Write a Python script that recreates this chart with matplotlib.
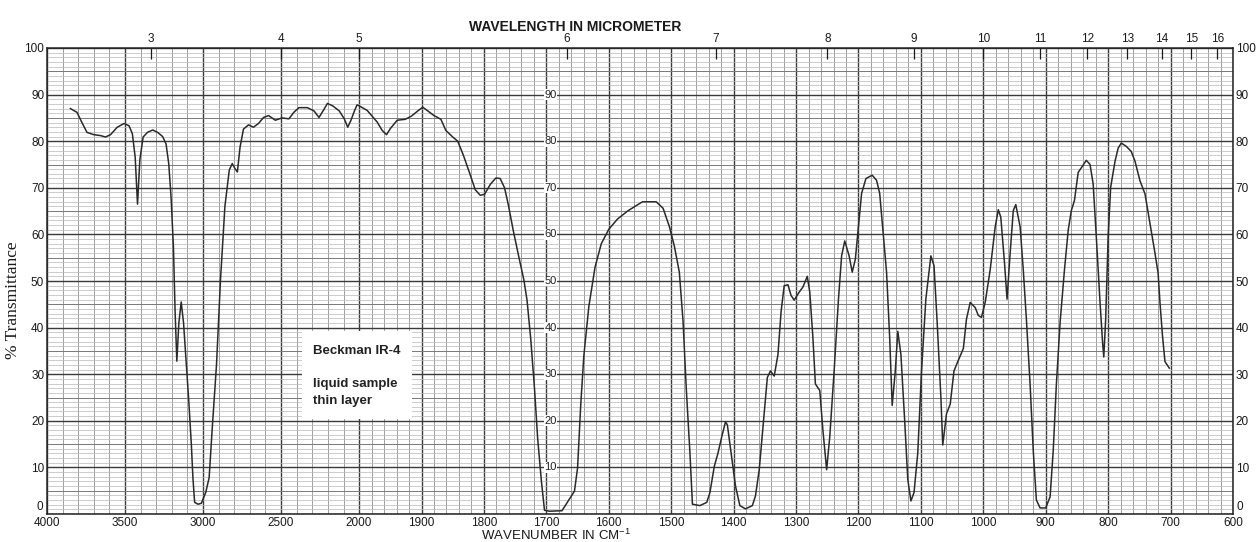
import numpy as np
import matplotlib
matplotlib.use('Agg')
import matplotlib.pyplot as plt
from matplotlib.patches import Rectangle

plt.rcParams['font.family'] = ['Liberation Sans', 'DejaVu Sans']
plt.rcParams['mathtext.default'] = 'regular'

# spectrum: wavenumber (cm-1) and % transmittance
wavenumber = [3850, 3808, 3776, 3744, 3700, 3657, 3625, 3593, 3550, 3506,
              3474, 3453, 3435, 3420, 3405, 3384, 3356, 3323, 3291, 3259,
              3237, 3220, 3205, 3190, 3179, 3168, 3155, 3140, 3125, 3108,
              3091, 3075, 3065, 3054, 3032, 3011, 2983, 2961, 2940, 2914,
              2888, 2860, 2832, 2813, 2795, 2780, 2763, 2741, 2709, 2677,
              2645, 2612, 2580, 2537, 2494, 2450, 2418, 2386, 2332, 2289,
              2257, 2224, 2203, 2170, 2127, 2095, 2073, 2052, 2030, 2013,
              2000, 1987, 1971, 1963, 1956, 1950, 1939, 1926, 1916, 1905,
              1898, 1891, 1880, 1869, 1861, 1850, 1842, 1833, 1822, 1814,
              1806, 1799, 1790, 1781, 1774, 1767, 1761, 1753, 1744, 1736,
              1731, 1725, 1719, 1714, 1708, 1703, 1695, 1675, 1665, 1655,
              1650, 1645, 1640, 1632, 1622, 1612, 1600, 1586, 1570, 1557,
              1546, 1535, 1524, 1513, 1503, 1495, 1487, 1481, 1476, 1470,
              1466, 1454, 1443, 1438, 1431, 1425, 1419, 1413, 1410, 1404,
              1397, 1390, 1381, 1370, 1365, 1359, 1352, 1346, 1341, 1335,
              1329, 1324, 1319, 1313, 1308, 1303, 1295, 1289, 1282, 1278,
              1273, 1269, 1262, 1257, 1251, 1246, 1239, 1232, 1227, 1222,
              1215, 1210, 1205, 1200, 1195, 1188, 1178, 1171, 1166, 1161,
              1155, 1150, 1146, 1141, 1137, 1132, 1126, 1121, 1116, 1111,
              1105, 1099, 1092, 1084, 1079, 1074, 1068, 1065, 1059, 1053,
              1047, 1040, 1032, 1027, 1021, 1013, 1008, 1003, 997, 989,
              981, 976, 972, 966, 962, 957, 952, 948, 941, 936,
              931, 925, 920, 915, 909, 900, 893, 888, 883, 877,
              870, 864, 859, 854, 848, 841, 835, 829, 824, 819,
              813, 809, 807, 804, 800, 796, 789, 784, 779, 771,
              763, 757, 749, 741, 733, 725, 720, 717, 713, 709,
              702]
transmittance = [87, 86.2, 84, 81.9, 81.4, 81.2, 80.9, 81.4, 83, 83.8,
                 83.3, 81.6, 76.6, 66.5, 76, 80.9, 81.9, 82.4, 81.9, 81,
                 79.4, 75.2, 68, 57.4, 43.3, 32.8, 41, 45.5, 41, 32.6,
                 24, 14.9, 7.8, 2.5, 2.1, 2.3, 4.6, 7.8, 19, 31.9,
                 50.4, 66, 73.8, 75.2, 74.1, 73.4, 78.7, 82.6, 83.5, 83,
                 83.8, 85.1, 85.5, 84.5, 85, 84.8, 86.2, 87.2, 87.2, 86.5,
                 85.1, 86.9, 88.1, 87.6, 86.5, 84.8, 83, 84.5, 86.5, 87.8,
                 87.6, 86.6, 84.1, 82.3, 81.4, 82.7, 84.5, 84.7, 85.4, 86.6,
                 87.3, 86.6, 85.5, 84.7, 82.3, 80.9, 80, 77, 72.8, 69.6,
                 68.4, 68.6, 70.7, 72.1, 72, 70, 66.4, 60.8, 55.1, 50.2,
                 45.9, 37.5, 26.9, 16.3, 7.1, 0.8, 0.6, 0.7, 2.8, 4.9,
                 9.9, 23.3, 33.9, 44.5, 53, 58, 61.1, 63.3, 65, 66.1,
                 67, 67, 67, 65.6, 61.7, 57.5, 51.9, 41.3, 27.2, 13.1,
                 2.1, 1.8, 2.5, 4.6, 10.2, 13.1, 16.6, 19.8, 19.1, 13.1,
                 6, 1.8, 1.1, 1.8, 3.9, 9.5, 20.1, 29.3, 30.7, 29.6,
                 34.2, 43.4, 49, 49.2, 46.9, 45.9, 47.6, 48.7, 51, 47.6,
                 37.8, 27.9, 26.5, 18, 9.5, 16.6, 30.7, 46.2, 55.4, 58.6,
                 55.4, 51.9, 54.7, 61.8, 68.8, 72, 72.7, 71.6, 68.8, 61,
                 51.9, 37.8, 23.3, 30.7, 39.2, 34.2, 20.1, 7.4, 2.8, 4.6,
                 13.1, 30.7, 46.2, 55.4, 53.3, 41.3, 25.1, 14.8, 21.5, 23.6,
                 30.7, 33, 35.5, 41.8, 45.4, 44.3, 42.6, 42.2, 45.4, 52.4,
                 61.6, 65.3, 63.7, 53.8, 46.1, 56, 65.1, 66.4, 61.6, 52.4,
                 41.8, 27.7, 13.6, 3, 1.3, 1.3, 3.7, 13.6, 27.7, 41.1,
                 52.4, 60.9, 65.1, 67.3, 73.3, 74.7, 75.9, 75, 70.8, 59.5,
                 45.4, 36.9, 33.7, 41.8, 59.5, 70.1, 75.7, 78.5, 79.6, 78.9,
                 77.8, 75.7, 71.5, 68.7, 62.3, 56, 51.7, 45.4, 38.3, 32.7,
                 31.3]

wn_labels = [4000, 3500, 3000, 2500, 2000, 1900, 1800, 1700, 1600, 1500,
             1400, 1300, 1200, 1100, 1000, 900, 800, 700, 600]
micron_labels = [3, 4, 5, 6, 7, 8, 9, 10, 11, 12, 13, 14, 15, 16]
pct_labels = list(range(0, 101, 10))
inner_labels = list(range(10, 100, 10))
note_lines = ['Beckman IR-4', 'liquid sample', 'thin layer']


# chart paper: 4000-2000 is compressed 4x compared with 2000-600
def forward(w):
    w = np.asarray(w, dtype=float)
    return np.where(w > 2000, 2000 + (w - 2000) / 4.0, w)


def inverse(u):
    u = np.asarray(u, dtype=float)
    return np.where(u > 2000, 2000 + (u - 2000) * 4.0, u)


fig = plt.figure(figsize=(12.57, 5.42), dpi=100)
W, H = 1257, 542
left, right, top, bottom = 47, 1233, 48, 514
ax = fig.add_axes([left / W, 1 - bottom / H, (right - left) / W, (bottom - top) / H])
ax.set_xscale('function', functions=(forward, inverse))
ax.set_xlim(4000, 600)
ax.set_ylim(0, 100)

# grid
minor_x = [w for w in range(3900, 2000, -100) if w % 500] + \
          [w for w in range(1980, 600, -20) if w % 100]
ax.set_xticks(wn_labels)
ax.set_xticklabels([str(w) for w in wn_labels])
ax.set_xticks(minor_x, minor=True)
ax.set_yticks(pct_labels)
# the "0" sits just above the corner wavenumbers, placed separately below
ax.set_yticklabels(['' if v == 0 else str(v) for v in pct_labels])
ax.set_yticks(range(0, 101), minor=True)
ax.grid(which='major', color='#3a3a3a', lw=1.0)
ax.grid(which='minor', axis='x', color='#8f8f8f', lw=0.6)
ax.grid(which='minor', axis='y', color='#b8b8b8', lw=0.5)
ax.hlines(range(5, 100, 10), 4000, 600, color='#7a7a7a', lw=0.7, zorder=1.6)
ax.tick_params(which='both', length=0)
ax.tick_params(axis='x', labelsize=8.5, pad=2.5, colors='#1a1a1a')
ax.tick_params(axis='y', labelsize=8.5, pad=2, labelright=True, colors='#1a1a1a')
for s in ax.spines.values():
    s.set_color('#222222')
    s.set_linewidth(1.1)

ax.text(-0.003, 0.003, '0', transform=ax.transAxes, ha='right', va='bottom',
        fontsize=8.5, color='#1a1a1a')
ax.text(1.003, 0.003, '0', transform=ax.transAxes, ha='left', va='bottom',
        fontsize=8.5, color='#1a1a1a')

ax.plot(wavenumber, transmittance, color='#2a2a2a', lw=1.1, zorder=3)

# labels along the 1700 line
for v in inner_labels:
    ax.text(1703, v, str(v), ha='left', va='center', fontsize=8, color='#222222',
            zorder=4, bbox=dict(facecolor='white', edgecolor='none', pad=0.3))

# sample note
ax.add_patch(Rectangle((1915, 20.3), 2367 - 1915, 39.3 - 20.3,
                       facecolor='white', edgecolor='none', zorder=2.5))
for txt, yv in zip(note_lines, [34.9, 27.8, 24.2]):
    ax.text(2295, yv, txt, fontsize=9.5, fontweight='bold', va='center',
            color='#222222', zorder=4)

# wavelength axis on top
ax2 = ax.twiny()
ax2.set_xscale('function', functions=(forward, inverse))
ax2.set_xlim(4000, 600)
ax2.set_xticks([1e4 / m for m in micron_labels])
ax2.set_xticklabels([str(m) for m in micron_labels])
ax2.tick_params(axis='x', direction='in', length=8, width=0.9, pad=2,
                labelsize=8.5, colors='#1a1a1a')
for s in ax2.spines.values():
    s.set_visible(False)

fig.text(575 / W, 1 - 27 / H, 'WAVELENGTH IN MICROMETER', ha='center', va='center',
         fontsize=10, fontweight='bold', color='#1a1a1a')
fig.text(556 / W, 1 - 535 / H, 'WAVENUMBER IN CM$^{-1}$', ha='center', va='center',
         fontsize=9.5, color='#1a1a1a')
fig.text(13 / W, 1 - 300 / H, '% Transmittance', rotation=90, ha='center', va='center',
         fontsize=12.5, family=['Liberation Serif', 'DejaVu Serif'], color='#1a1a1a')

fig.savefig('out.png', dpi=100, facecolor='white')
